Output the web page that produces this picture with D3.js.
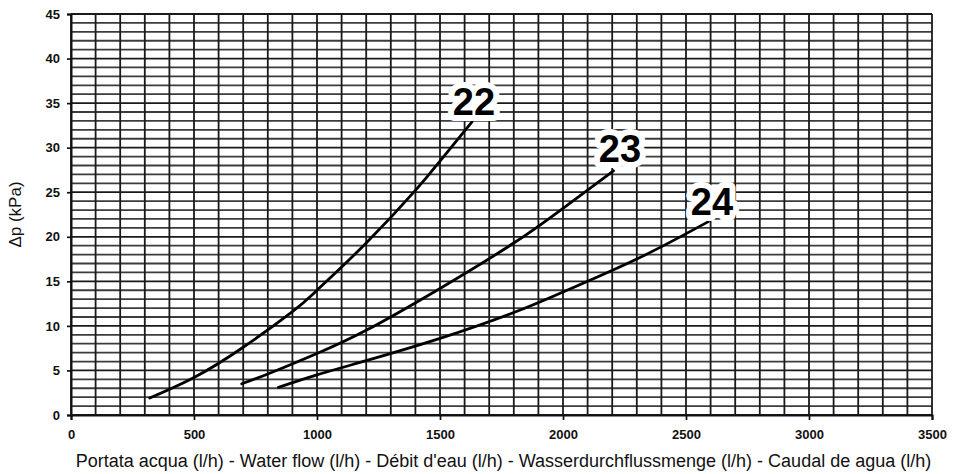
<!DOCTYPE html>
<html>
<head>
<meta charset="utf-8">
<script src="https://cdn.jsdelivr.net/npm/d3@7"></script>
<style>
  html, body { margin: 0; padding: 0; background: #fff; }
  svg { display: block; font-family: "Liberation Sans", Arial, sans-serif; }
</style>
</head>
<body>
<svg id="chart" width="956" height="474"></svg>
<script>
// Pressure drop vs. water flow for valve sizes 22, 23, 24
const xTickValues = [0, 500, 1000, 1500, 2000, 2500, 3000, 3500];
const yTickValues = [0, 5, 10, 15, 20, 25, 30, 35, 40, 45];
const seriesNames = ["22", "23", "24"];
const flow22 = [320, 500, 700, 900, 1000, 1200, 1400, 1500, 1630];
const dp22   = [1.9, 4.2, 7.6, 11.6, 14.0, 19.3, 25.2, 28.5, 32.9];
const flow23 = [694, 800, 1000, 1200, 1500, 1800, 2000, 2205];
const dp23   = [3.5, 4.6, 6.9, 9.5, 14.2, 19.3, 23.2, 27.4];
const flow24 = [843, 1000, 1200, 1500, 1800, 2000, 2300, 2591];
const dp24   = [3.1, 4.5, 6.1, 8.6, 11.5, 13.8, 17.5, 21.7];
const xTitle = "Portata acqua (l/h) - Water flow (l/h) - Débit d'eau (l/h) - Wasserdurchflussmenge (l/h) - Caudal de agua (l/h)";
const yTitle = "Δp (kPa)";

const margin = { left: 71, right: 24, top: 14, bottom: 59 };
const W = 956, H = 474;
const svg = d3.select("#chart");

const x = d3.scaleLinear().domain([0, 3500]).range([margin.left, W - margin.right]);
const y = d3.scaleLinear().domain([0, 45]).range([H - margin.bottom, margin.top]);

// fine grid: every 100 l/h and every 1 kPa
const grid = svg.append("g").attr("stroke", "#1a1a1a").attr("stroke-width", 1.8);
grid.selectAll("line.v").data(d3.range(0, 3501, 100)).join("line")
  .attr("class", "v")
  .attr("x1", d => x(d)).attr("x2", d => x(d))
  .attr("y1", y(0)).attr("y2", y(45));
grid.selectAll("line.h").data(d3.range(0, 46, 1)).join("line")
  .attr("class", "h")
  .attr("x1", x(0)).attr("x2", x(3500))
  .attr("y1", d => y(d)).attr("y2", d => y(d))
  .attr("stroke-opacity", d => (d % 5 === 0 ? 1 : 0.85));

// axes
const xAxis = d3.axisBottom(x).tickValues(xTickValues).tickFormat(d3.format("d")).tickSize(5).tickPadding(10);
const yAxis = d3.axisLeft(y).tickValues(yTickValues).tickFormat(d3.format("d")).tickSize(4).tickPadding(7);

const gx = svg.append("g").attr("transform", `translate(0,${y(0)})`).call(xAxis);
const gy = svg.append("g").attr("transform", `translate(${x(0)},0)`).call(yAxis);
[gx, gy].forEach(g => {
  g.select(".domain").attr("stroke", "#111").attr("stroke-width", 2);
  g.selectAll(".tick line").attr("stroke", "#111").attr("stroke-width", 1.7);
  g.selectAll(".tick text")
    .attr("fill", "#111")
    .attr("font-family", "'Liberation Sans', Arial, sans-serif")
    .attr("font-weight", "bold")
    .attr("font-size", 13);
});

// curves
const series = [
  { name: seriesNames[0], pts: d3.zip(flow22, dp22), label: [474, 115] },
  { name: seriesNames[1], pts: d3.zip(flow23, dp23), label: [620, 162] },
  { name: seriesNames[2], pts: d3.zip(flow24, dp24), label: [712, 215] }
];
const line = d3.line().x(d => x(d[0])).y(d => y(d[1])).curve(d3.curveNatural);

svg.append("g").selectAll("path").data(series).join("path")
  .attr("d", d => line(d.pts))
  .attr("fill", "none")
  .attr("stroke", "#000")
  .attr("stroke-width", 2.8)
  .attr("stroke-linecap", "round");

// curve labels with white halo
svg.append("g").selectAll("text").data(series).join("text")
  .attr("x", d => d.label[0])
  .attr("y", d => d.label[1])
  .attr("text-anchor", "middle")
  .attr("font-family", "'Liberation Sans', Arial, sans-serif")
  .attr("font-weight", "bold")
  .attr("font-size", 38)
  .attr("fill", "#000")
  .attr("stroke", "#fff")
  .attr("stroke-width", 12)
  .attr("stroke-linejoin", "round")
  .attr("paint-order", "stroke")
  .text(d => d.name);

// axis titles
svg.append("text")
  .attr("x", (x(0) + x(3500)) / 2 + 2)
  .attr("y", 467)
  .attr("text-anchor", "middle")
  .attr("font-size", 18)
  .attr("fill", "#111")
  .text(xTitle);

svg.append("text")
  .attr("transform", `translate(21,${(y(0) + y(45)) / 2}) rotate(-90)`)
  .attr("text-anchor", "middle")
  .attr("font-size", 17)
  .attr("fill", "#111")
  .text(yTitle);
</script>
</body>
</html>
